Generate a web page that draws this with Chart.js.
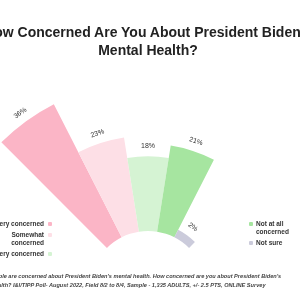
<!DOCTYPE html>
<html lang="en">
<head>
<meta charset="UTF-8">
<title>Biden mental health poll</title>
<script src="https://cdn.jsdelivr.net/npm/chart.js"></script>
<style>
    body { margin: 0; background: #fff; }
    .janela { position: relative; width: 300px; height: 300px; overflow: hidden; font-family: "Liberation Sans", Arial, sans-serif; }
    #grafico { position: absolute; left: 0; top: 0; }
    .titulo { position: absolute; left: -100px; width: 496px; top: 23px; text-align: center; white-space: nowrap;
              font-size: 14px; font-weight: bold; line-height: 18px; color: #222; }
    .legenda { position: absolute; top: 220px; font-size: 6.5px; font-weight: bold; color: #333; line-height: 8px; }
    .legenda .item { display: flex; align-items: flex-start; margin-bottom: 3px; white-space: nowrap; }
    .legenda-esq { right: 248px; text-align: right; }
    .legenda-esq .item { justify-content: flex-end; }
    .legenda-dir { left: 249px; }
    .cor { width: 4px; height: 4px; border-radius: 1px; margin-top: 2px; flex: none; }
    .legenda-esq .cor { margin-left: 4px; }
    .legenda-dir .cor { margin-right: 3px; }
    .rodape { position: absolute; left: -28px; top: 272px; white-space: nowrap; font-size: 5.6px; font-style: italic;
              font-weight: bold; color: #444; line-height: 9px; }
</style>
</head>
<body>

<div class="janela">
    <canvas id="grafico" width="300" height="300"></canvas>
    <div class="titulo">How Concerned Are You About President Biden's<br>Mental Health?</div>
    <div class="legenda legenda-esq" id="legendaEsq"></div>
    <div class="legenda legenda-dir" id="legendaDir"></div>
    <div class="rodape">Some people are concerned about President Biden's mental health. How concerned are you about President Biden's<br>mental health? I&amp;I/TIPP Poll- August 2022, Field 8/2 to 8/4, Sample - 1,335 ADULTS, +/- 2.5 PTS, ONLINE Survey</div>
</div>

<script>
    const categorias = ['Very concerned', ['Somewhat', 'concerned'], 'Not very concerned', ['Not at all', 'concerned'], 'Not sure'];
    const valores = [36, 23, 18, 21, 2];
    const cores = ['#fbb5c6', '#fddfe6', '#d5f3d3', '#a6e5a0', '#cbcbdb'];

    // furo no meio + rotulos de % girados em cada fatia
    const fatias = {
        id: 'fatias',
        beforeDatasetsDraw(chart) {
            const furo = chart.scales.r.getDistanceFromCenterForValue(0);
            chart.getDatasetMeta(0).data.forEach(arco => { arco.innerRadius = furo; });
        },
        afterDatasetsDraw(chart) {
            const ctx = chart.ctx;
            ctx.save();
            ctx.font = '7px "Liberation Sans", Arial, sans-serif';
            ctx.fillStyle = '#333';
            ctx.textAlign = 'center';
            ctx.textBaseline = 'middle';
            chart.getDatasetMeta(0).data.forEach((arco, i) => {
                const meio = (arco.startAngle + arco.endAngle) / 2;
                const r = arco.outerRadius + 10;
                ctx.save();
                ctx.translate(arco.x + Math.cos(meio) * r, arco.y + Math.sin(meio) * r);
                ctx.rotate(meio + Math.PI / 2);
                ctx.fillText(valores[i] + '%', 0, 0);
                ctx.restore();
            });
            ctx.restore();
        }
    };

    new Chart(document.getElementById('grafico'), {
        type: 'polarArea',
        data: {
            labels: categorias,
            datasets: [{
                data: valores,
                backgroundColor: cores,
                borderWidth: 0,
                angle: 90 / valores.length,
                clip: false
            }]
        },
        options: {
            responsive: false,
            animation: false,
            plugins: {
                legend: { display: false },
                tooltip: { enabled: false }
            },
            scales: {
                r: {
                    min: -14,
                    max: 40,
                    startAngle: -45,
                    ticks: { display: false },
                    grid: { display: false },
                    angleLines: { display: false },
                    pointLabels: { display: false },
                    afterFit: escala => {
                        // leque aberto para cima, centro abaixo da area do grafico
                        escala.xCenter = escala.chart.width / 2 - 2;
                        escala.yCenter = escala.chart.height - 11;
                        escala.drawingArea = 224;
                    }
                }
            }
        },
        plugins: [fatias]
    });

    function montarLegenda(id, indices, corDepois) {
        let html = '';
        indices.forEach(i => {
            const texto = [].concat(categorias[i]).join('<br>');
            const cor = `<span class="cor" style="background:${cores[i]}"></span>`;
            html += `<div class="item">${corDepois ? '' : cor}<span>${texto}</span>${corDepois ? cor : ''}</div>`;
        });
        document.getElementById(id).innerHTML = html;
    }
    montarLegenda('legendaEsq', [0, 1, 2], true);
    montarLegenda('legendaDir', [3, 4], false);
</script>
</body>
</html>
